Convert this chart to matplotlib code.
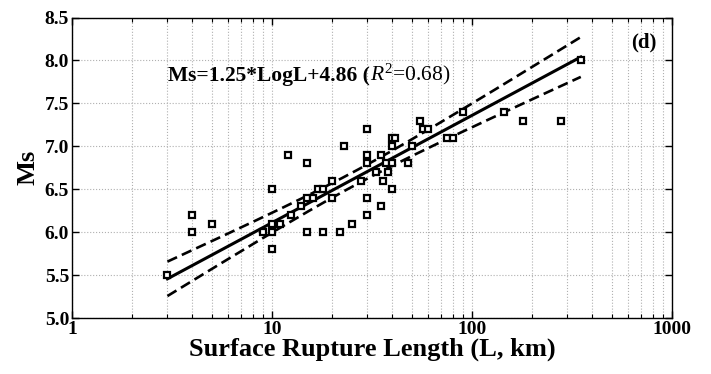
import numpy as np
import matplotlib
matplotlib.use("Agg")
import matplotlib.pyplot as plt
from matplotlib.ticker import LogLocator, FixedLocator, FixedFormatter, NullFormatter

# Data: surface rupture length (km) and Ms
length_km = [3, 4, 4, 5, 9, 10, 10, 10, 10, 11, 12, 12.5, 14, 15, 15, 15, 16, 17, 18, 18,
             20, 20, 22, 23, 25, 28, 30, 30, 30, 30, 30, 33, 35, 35, 36, 37, 38, 40, 41, 40,
             40, 40, 48, 50, 55, 57, 60, 75, 80, 90, 145, 180, 280, 350]
ms_values = [5.5, 6.2, 6.0, 6.1, 6.0, 6.5, 6.0, 5.8, 6.1, 6.1, 6.9, 6.2, 6.3, 6.4, 6.8, 6.0, 6.4, 6.5, 6.5, 6.0,
             6.6, 6.4, 6.0, 7.0, 6.1, 6.6, 7.2, 6.9, 6.8, 6.4, 6.2, 6.7, 6.9, 6.3, 6.6, 6.8, 6.7, 7.1, 7.1, 7.0,
             6.8, 6.5, 6.8, 7.0, 7.3, 7.2, 7.2, 7.1, 7.1, 7.4, 7.4, 7.3, 7.3, 8.0]

slope = 1.25
intercept = 4.86
t_value = 2.007  # 95% two-sided, df ~ 52

x_ticks = [1, 10, 100, 1000]
x_tick_labels = ["1", "10", "100", "1000"]
y_ticks = [5.0, 5.5, 6.0, 6.5, 7.0, 7.5, 8.0, 8.5]

serif = "Liberation Serif"
plt.rcParams["mathtext.fontset"] = "custom"
plt.rcParams["mathtext.rm"] = serif
plt.rcParams["mathtext.it"] = serif + ":italic"
plt.rcParams["mathtext.bf"] = serif + ":bold"

L = np.array(length_km, dtype=float)
M = np.array(ms_values, dtype=float)
lx = np.log10(L)
n = len(L)
resid = M - (slope * lx + intercept)
s = np.sqrt(np.sum(resid ** 2) / (n - 2))
xm = lx.mean()
sxx = np.sum((lx - xm) ** 2)

xfit = np.linspace(lx.min(), lx.max(), 200)
yfit = slope * xfit + intercept
half = t_value * s * np.sqrt(1.0 / n + (xfit - xm) ** 2 / sxx)

fig = plt.figure(figsize=(7.11, 3.74), dpi=100)
ax = fig.add_axes([0.1013, 0.1497, 0.8438, 0.8035])

ax.plot(10 ** xfit, yfit, color="black", lw=2.2, zorder=3)
ax.plot(10 ** xfit, yfit + half, color="black", lw=1.9, dashes=(4, 2), zorder=3)
ax.plot(10 ** xfit, yfit - half, color="black", lw=1.9, dashes=(4, 2), zorder=3)
ax.plot(L, M, linestyle="none", marker="s", markersize=4.6, markerfacecolor="white",
        markeredgecolor="black", markeredgewidth=1.6, zorder=4)

ax.set_xscale("log")
ax.set_xlim(1, 1000)
ax.set_ylim(5.0, 8.5)

ax.xaxis.set_major_locator(FixedLocator(x_ticks))
ax.xaxis.set_major_formatter(FixedFormatter(x_tick_labels))
ax.xaxis.set_minor_locator(LogLocator(base=10, subs=np.arange(2, 10)))
ax.xaxis.set_minor_formatter(NullFormatter())
ax.set_yticks(y_ticks)
ax.set_yticklabels([f"{v:.1f}" for v in y_ticks])

ax.grid(True, which="major", axis="both", color="#b0b0b0", linestyle=":", linewidth=0.8)
ax.grid(True, which="minor", axis="x", color="#b0b0b0", linestyle=":", linewidth=0.8)
ax.set_axisbelow(True)

ax.tick_params(which="both", direction="in", top=True, right=True)
ax.tick_params(which="major", length=5, width=1)
ax.tick_params(which="minor", length=3, width=0.8)
for sp in ax.spines.values():
    sp.set_linewidth(1.0)

for lab in ax.get_xticklabels() + ax.get_yticklabels():
    lab.set_fontfamily(serif)
    lab.set_fontweight("bold")
    lab.set_fontsize(14)
ax.tick_params(axis="x", pad=2)
ax.tick_params(axis="y", pad=2)

ax.set_xlabel("Surface Rupture Length (L, km)", fontfamily=serif, fontweight="bold", fontsize=19, labelpad=0)
ax.set_ylabel("Ms", fontfamily=serif, fontweight="bold", fontsize=19, labelpad=4)

eq_bold = "Ms=1.25*LogL+4.86 ("
t1 = ax.text(0.16, 0.79, eq_bold, transform=ax.transAxes, fontfamily=serif,
             fontweight="bold", fontsize=15.5, va="baseline", ha="left")
fig.canvas.draw()
bb = t1.get_window_extent()
x_after = ax.transAxes.inverted().transform((bb.x1, bb.y0))[0]
ax.text(x_after, 0.79, r"$\mathit{R}^{2}$=0.68)", transform=ax.transAxes, fontfamily=serif,
        fontsize=15.5, va="baseline", ha="left")

ax.text(0.975, 0.95, "(d)", transform=ax.transAxes, fontfamily=serif, fontweight="bold",
        fontsize=15, ha="right", va="top")

fig.savefig("out.png", dpi=100)
